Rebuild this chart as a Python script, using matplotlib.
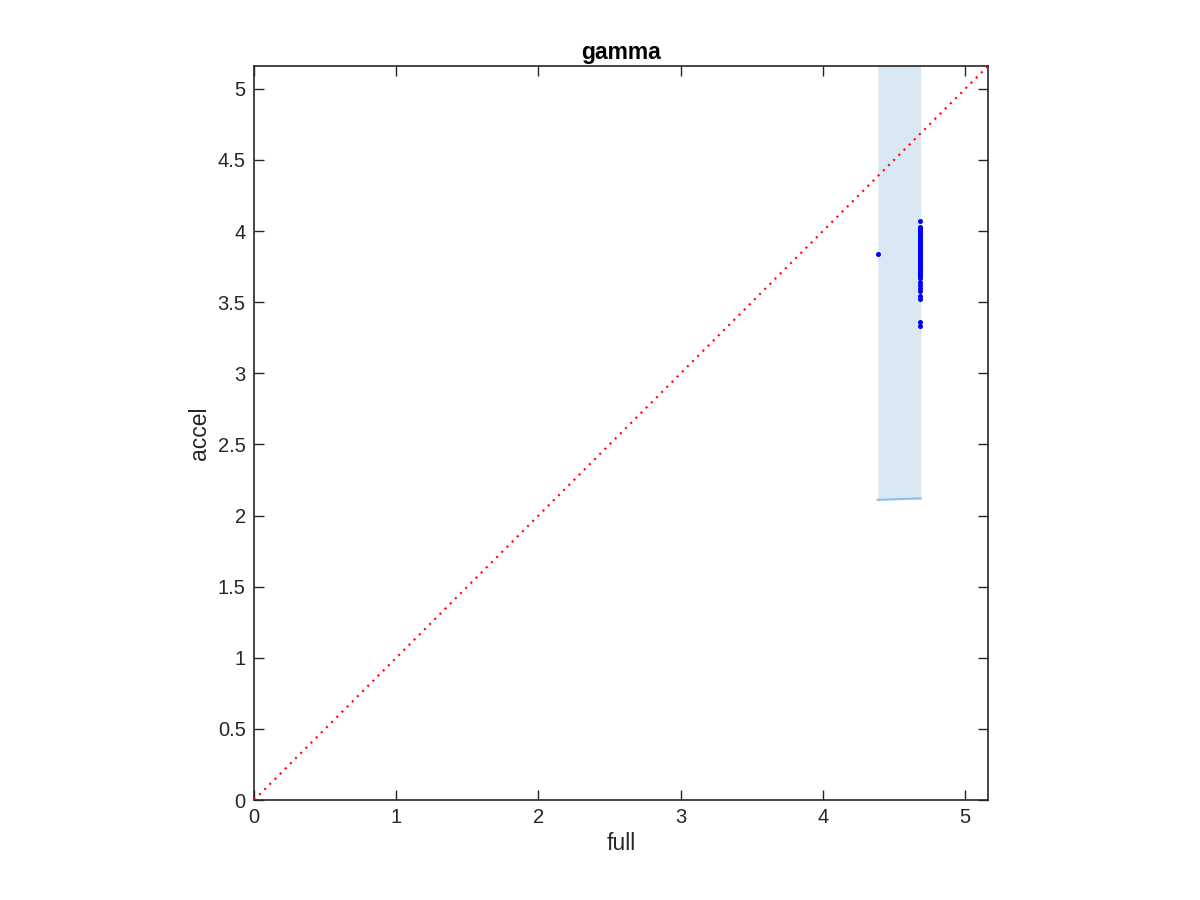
import matplotlib
matplotlib.use("Agg")
import matplotlib.pyplot as plt
import numpy as np

plt.rcParams['font.family'] = ['Liberation Sans', 'DejaVu Sans']

# data
lim = 5.16
band_x = [4.385, 4.687]
band_low = [2.11, 2.12]
band_high = [5.6, 5.6]
outlier_x = [4.385]
outlier_y = [3.84]
cluster_x_val = 4.683
cluster_y = [4.07, 4.03, 4.02, 4.01, 4.00, 3.99, 3.98, 3.97, 3.96, 3.95, 3.94,
             3.93, 3.92, 3.91, 3.90, 3.89, 3.88, 3.87, 3.86, 3.85, 3.84, 3.83,
             3.82, 3.81, 3.80, 3.79, 3.78, 3.77, 3.76, 3.75, 3.74, 3.73, 3.72,
             3.71, 3.70, 3.69, 3.68, 3.67, 3.645, 3.62, 3.60, 3.575, 3.54, 3.52,
             3.36, 3.33]
cluster_x = [cluster_x_val] * len(cluster_y)
diag = [0, lim]

fig = plt.figure(figsize=(12, 9), dpi=100)
ax = fig.add_axes([254/1200, 100/900, 734/1200, 734/900])

ax.fill_between(band_x, band_low, band_high, color=(0.85, 0.91, 0.95), lw=0, zorder=1)
ax.plot(band_x, band_low, color=(0.55, 0.75, 0.91), lw=1.5, zorder=2)
ax.plot(diag, diag, color='red', ls=(0, (1, 2.5)), lw=1.5, zorder=3)
ax.plot(cluster_x, cluster_y, 'o', color='blue', ms=3.6, mew=0, zorder=4)
ax.plot(outlier_x, outlier_y, 'o', color='blue', ms=3.6, mew=0, zorder=4)

ax.set_xlim(0, lim)
ax.set_ylim(0, lim)
ax.set_xticks([0, 1, 2, 3, 4, 5])
ax.set_xticklabels(['0', '1', '2', '3', '4', '5'])
ax.set_yticks([0, 0.5, 1, 1.5, 2, 2.5, 3, 3.5, 4, 4.5, 5])
ax.set_yticklabels(['0', '0.5', '1', '1.5', '2', '2.5', '3', '3.5', '4', '4.5', '5'])
ax.tick_params(direction='in', length=7, width=1, top=True, right=True,
               labelsize=14.5, colors=(0.15, 0.15, 0.15), labelcolor=(0.15, 0.15, 0.15), pad=6)
for s in ax.spines.values():
    s.set_color((0.15, 0.15, 0.15))
    s.set_linewidth(1.2)
ax.set_xlabel('full', fontsize=16.5, color=(0.15, 0.15, 0.15), labelpad=3)
ax.set_ylabel('accel', fontsize=16.5, color=(0.15, 0.15, 0.15), labelpad=5)
ax.set_title('gamma', fontsize=16.5, fontweight='bold', pad=5)

fig.savefig('out.png', dpi=100)
